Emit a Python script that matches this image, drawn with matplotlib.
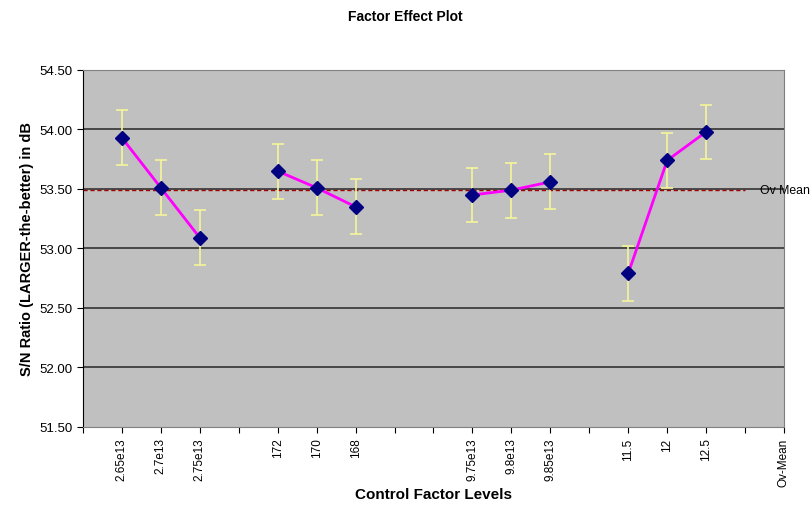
import numpy as np
import matplotlib
matplotlib.use("Agg")
import matplotlib.pyplot as plt

plt.rcParams['font.family'] = ['Liberation Sans', 'DejaVu Sans']

# category labels along the x axis (blank = spacer between factors)
levels = ["", "2.65e13", "2.7e13", "2.75e13", "", "172", "170", "168", "", "",
          "9.75e13", "9.8e13", "9.85e13", "", "11.5", "12", "12.5", "", "Ov-Mean"]

# S/N ratio for each level, grouped per control factor
factor_pos = [[1, 2, 3], [5, 6, 7], [10, 11, 12], [14, 15, 16]]
factor_sn = [[53.93, 53.51, 53.09],
             [53.65, 53.51, 53.35],
             [53.45, 53.49, 53.56],
             [52.79, 53.74, 53.98]]
err = 0.23
ov_mean = 53.49

fig = plt.figure(figsize=(8.11, 5.06), dpi=100)
ax = fig.add_axes([0.1023, 0.1542, 0.8644, 0.7055])
ax.set_facecolor('#c0c0c0')

ax.set_xlim(0, 18)
ax.set_ylim(51.5, 54.5)
yt = np.arange(51.5, 54.51, 0.5)
ax.set_yticks(yt)
ax.set_yticklabels([f"{v:.2f}" for v in yt], fontsize=9.5)
for v in yt[1:-1]:
    ax.axhline(v, color='#333333', lw=1.2, zorder=1)

ax.set_xticks(range(len(levels)))
ax.set_xticklabels(levels, rotation=90, fontsize=8.5)
ax.tick_params(axis='both', direction='out', length=4, color='black')

# overall mean reference
ax.plot([0, 17], [ov_mean, ov_mean], color='#a00000', lw=1.0, ls=(0, (3, 2)), zorder=2)
ax.text(17.38, ov_mean, "Ov Mean", fontsize=8.8, va='center', ha='left', clip_on=False)

for xs, ys in zip(factor_pos, factor_sn):
    ax.errorbar(xs, ys, yerr=err, fmt='none', ecolor='#f6f69a', elinewidth=1.2,
                capsize=4, capthick=1.2, zorder=3)
    ax.plot(xs, ys, color='#ff00ff', lw=2, zorder=4)
    ax.plot(xs, ys, ls='none', marker='D', ms=7, color='#000080', zorder=5)

for s in ['top', 'right', 'bottom']:
    ax.spines[s].set_color('#808080')
ax.spines['left'].set_color('black')

ax.set_ylabel("S/N Ratio (LARGER-the-better) in dB", fontsize=10.5, fontweight='bold')
ax.set_xlabel("Control Factor Levels", fontsize=11, fontweight='bold', labelpad=1)
fig.text(0.5, 0.966, "Factor Effect Plot", ha='center', va='center',
         fontsize=10, fontweight='bold')

fig.savefig("out.png", dpi=100)
